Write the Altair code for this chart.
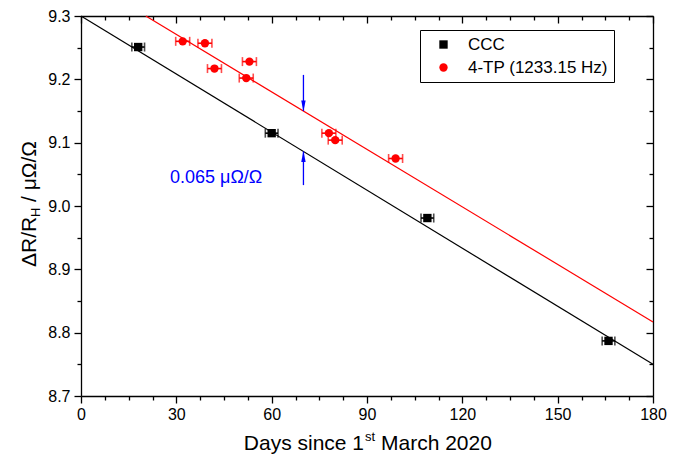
import altair as alt
import pandas as pd

FONT = "Liberation Sans"

ccc_name = "CCC"
tp_name = "4-TP (1233.15 Hz)"

# measured points
ccc_day = [18, 60, 109, 166]
ccc_val = [9.251, 9.115, 8.981, 8.787]
ccc_err = [2.0, 2.0, 2.0, 2.0]

tp_day = [32, 39, 42, 52, 53, 78, 80, 99]
tp_val = [9.260, 9.257, 9.217, 9.202, 9.228, 9.115, 9.104, 9.075]
tp_err = [2.2, 2.2, 2.2, 2.2, 2.2, 2.2, 2.2, 2.2]

# fitted lines (end points)
ccc_fit_day = [0, 180]
ccc_fit_val = [9.300, 8.750]
tp_fit_day = [20.4, 180]
tp_fit_val = [9.300, 8.817]

# offset arrows
arrow_day = [70, 70]
arrow_start = [9.207, 9.033]
arrow_tip = [9.150, 9.086]

note_day = [28.0]
note_val = [9.044]
note_text = ["0.065 μΩ/Ω"]

x_ticks = [0, 7.5, 15, 22.5, 30, 37.5, 45, 52.5, 60, 67.5, 75, 82.5, 90,
           97.5, 105, 112.5, 120, 127.5, 135, 142.5, 150, 157.5, 165, 172.5, 180]
y_ticks = [8.7, 8.75, 8.8, 8.85, 8.9, 8.95, 9.0, 9.05, 9.1, 9.15, 9.2, 9.25, 9.3]

x_title_parts = ["Days since 1", "st", "March 2020"]
y_title_parts = ["ΔR/R", "H", "/ μΩ/Ω"]

W, H = 572, 380
TOP = 8

pts = pd.DataFrame({
    "day": ccc_day + tp_day,
    "val": ccc_val + tp_val,
    "err": ccc_err + tp_err,
    "series": [ccc_name] * len(ccc_day) + [tp_name] * len(tp_day),
})
ccc_df = pts[pts.series == ccc_name]
tp_df = pts[pts.series == tp_name]
ccc_fit = pd.DataFrame({"day": ccc_fit_day, "val": ccc_fit_val})
tp_fit = pd.DataFrame({"day": tp_fit_day, "val": tp_fit_val})
arrows = pd.DataFrame({"day": arrow_day, "start": arrow_start, "tip": arrow_tip})
note = pd.DataFrame({"day": note_day, "val": note_val, "t": note_text})

xs = alt.Scale(domain=[0, 180], nice=False, zero=False)
ys = alt.Scale(domain=[8.7, 9.3], nice=False, zero=False)

x_major = "datum.value % 30 === 0"
y_major = "round(datum.value * 100) % 10 === 0"

x_axis_main = alt.Axis(values=x_ticks, orient="bottom", title=None, labelFlush=False,
                       labelExpr=f"{x_major} ? format(datum.value, 'd') : ''",
                       tickSize={"condition": {"test": x_major, "value": 7}, "value": 4},
                       labelPadding=3)
y_axis_main = alt.Axis(values=y_ticks, orient="left", title=None, labelFlush=False,
                       labelExpr=f"{y_major} ? format(datum.value, '.1f') : ''",
                       tickSize={"condition": {"test": y_major, "value": 7}, "value": 4},
                       labelPadding=4)
x_axis_top = alt.Axis(values=x_ticks, orient="bottom", offset=-H, title=None, labels=False,
                      tickSize={"condition": {"test": x_major, "value": 7}, "value": 4})
y_axis_right = alt.Axis(values=y_ticks, orient="left", offset=-W, title=None, labels=False,
                        tickSize={"condition": {"test": y_major, "value": 7}, "value": 4})

frame = alt.Chart(ccc_fit).mark_point(opacity=0).encode(
    x=alt.X("day:Q", scale=xs, axis=x_axis_top),
    y=alt.Y("val:Q", scale=ys, axis=y_axis_right),
)

line_ccc = alt.Chart(ccc_fit).mark_line(color="black", strokeWidth=1.2).encode(
    x=alt.X("day:Q", scale=xs, axis=None),
    y=alt.Y("val:Q", scale=ys, axis=None),
)
line_tp = alt.Chart(tp_fit).mark_line(color="#ff0000", strokeWidth=1.2).encode(
    x=alt.X("day:Q", scale=xs, axis=None),
    y=alt.Y("val:Q", scale=ys, axis=None),
)

err_ccc = alt.Chart(ccc_df).mark_errorbar(ticks={"size": 9}, color="black", thickness=1.6).encode(
    x=alt.X("day:Q", scale=xs, axis=None),
    xError="err:Q",
    y=alt.Y("val:Q", scale=ys, axis=None),
)
err_tp = alt.Chart(tp_df).mark_errorbar(ticks={"size": 9}, color="#ff0000", thickness=1.6).encode(
    x=alt.X("day:Q", scale=xs, axis=None),
    xError="err:Q",
    y=alt.Y("val:Q", scale=ys, axis=None),
)

leg = alt.Legend(orient="none", legendX=339, legendY=17 - (TOP - 5), title=None,
                 labelFontSize=17, labelFont=FONT, labelColor="black", symbolSize=70,
                 strokeColor="black", padding=6, rowPadding=5,
                 symbolOffset=9, labelOffset=16, fillColor="white")

points = alt.Chart(pts).mark_point(filled=True, size=70, opacity=1).encode(
    x=alt.X("day:Q", scale=xs, axis=x_axis_main),
    y=alt.Y("val:Q", scale=ys, axis=y_axis_main),
    color=alt.Color("series:N",
                    scale=alt.Scale(domain=[ccc_name, tp_name], range=["#000000", "#ff0000"]),
                    legend=leg),
    shape=alt.Shape("series:N",
                    scale=alt.Scale(domain=[ccc_name, tp_name], range=["square", "circle"]),
                    legend=leg),
)

shaft = alt.Chart(arrows).mark_rule(color="#0000ff", strokeWidth=1.3).encode(
    x=alt.X("day:Q", scale=xs, axis=None),
    y=alt.Y("start:Q", scale=ys, axis=None),
    y2="tip:Q",
)
head_down = alt.Chart(arrows.iloc[[0]]).mark_point(
    shape="M-0.4,-1L0.4,-1L0,1Z", filled=True, size=121, color="#0000ff", opacity=1, yOffset=-5
).encode(x=alt.X("day:Q", scale=xs, axis=None), y=alt.Y("tip:Q", scale=ys, axis=None))
head_up = alt.Chart(arrows.iloc[[1]]).mark_point(
    shape="M-0.4,1L0.4,1L0,-1Z", filled=True, size=121, color="#0000ff", opacity=1, yOffset=5
).encode(x=alt.X("day:Q", scale=xs, axis=None), y=alt.Y("tip:Q", scale=ys, axis=None))

note_txt = alt.Chart(note).mark_text(align="left", baseline="middle", fontSize=18,
                                     font=FONT, color="#0000ff").encode(
    x=alt.X("day:Q", scale=xs, axis=None),
    y=alt.Y("val:Q", scale=ys, axis=None),
    text="t:N",
)

def label(txt, x, y, size, align, angle=0):
    return alt.Chart(pd.DataFrame({"t": [txt]})).mark_text(
        align=align, baseline="alphabetic", fontSize=size, font=FONT, color="black", angle=angle
    ).encode(x=alt.value(x), y=alt.value(y), text="t:N")

dy = TOP - 5
xt1 = label(x_title_parts[0], 283, 434, 21, "right")
xt2 = label(x_title_parts[1], 284, 425, 13, "left")
xt3 = label(x_title_parts[2], 300, 434, 21, "left")

yt1 = label(y_title_parts[0], -45, 254 - dy, 21, "left", 270)
yt2 = label(y_title_parts[1], -41, 204 - dy, 13, "left", 270)
yt3 = label(y_title_parts[2], -45, 189 - dy, 21, "left", 270)

chart = alt.layer(
    frame, line_ccc, line_tp, err_ccc, err_tp, points, shaft, head_down, head_up, note_txt,
    xt1, xt2, xt3, yt1, yt2, yt3,
).resolve_axis(x="independent", y="independent").properties(
    width=W, height=H,
    padding={"left": 73, "top": TOP, "right": 23, "bottom": 67 - TOP},
    autosize="none",
    background="white",
).configure_view(stroke=None).configure_axis(
    domainColor="black", domainWidth=1.3, tickColor="black", tickWidth=1.3,
    labelColor="black", labelFont=FONT, labelFontSize=16, grid=False,
)

chart.save("out.html", embed_options={"renderer": "svg", "actions": False})
